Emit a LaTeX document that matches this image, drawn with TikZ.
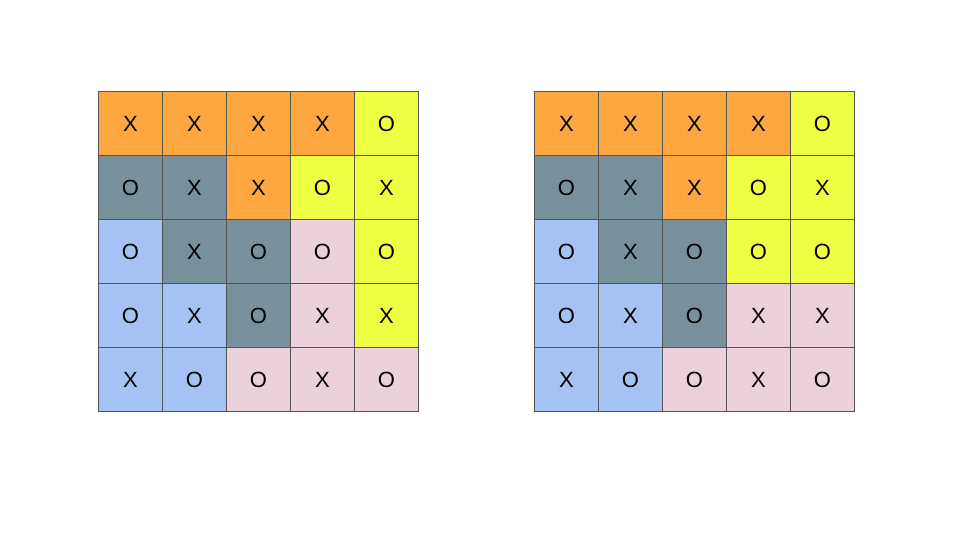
\documentclass[tikz,border=0pt]{standalone}
\usepackage{fontspec}
\setmainfont{Liberation Sans}
\definecolor{corange}{HTML}{FFA73F}
\definecolor{cyellow}{HTML}{EEFF41}
\definecolor{cgray}{HTML}{78909C}
\definecolor{cblue}{HTML}{A4C2F4}
\definecolor{cpink}{HTML}{EAD1DC}
\definecolor{gridline}{HTML}{555555}
\tikzset{
  cell/.style={draw=gridline, line width=0.8pt, minimum width=64pt, minimum height=64pt, inner sep=0pt, outer sep=0pt, anchor=north west, font=\fontsize{22}{26}\selectfont},
  O/.style={cell, fill=corange},
  Y/.style={cell, fill=cyellow},
  G/.style={cell, fill=cgray},
  B/.style={cell, fill=cblue},
  P/.style={cell, fill=cpink}
}
\begin{document}
\begin{tikzpicture}[x=1pt,y=-1pt]
\useasboundingbox (0,0) rectangle (960,540);
% left grid
\foreach \row/\line in {0/{O/X,O/X,O/X,O/X,Y/O},1/{G/O,G/X,O/X,Y/O,Y/X},2/{B/O,G/X,G/O,P/O,Y/O},3/{B/O,B/X,G/O,P/X,Y/X},4/{B/X,B/O,P/O,P/X,P/O}}{
  \foreach \c/\t [count=\col from 0] in \line {
    \node[\c] (L-\row-\col) at ({98.5+64*\col},{91.5+64*\row}) {\t};
  }
}
% right grid
\foreach \row/\line in {0/{O/X,O/X,O/X,O/X,Y/O},1/{G/O,G/X,O/X,Y/O,Y/X},2/{B/O,G/X,G/O,Y/O,Y/O},3/{B/O,B/X,G/O,P/X,P/X},4/{B/X,B/O,P/O,P/X,P/O}}{
  \foreach \c/\t [count=\col from 0] in \line {
    \node[\c] (R-\row-\col) at ({534.5+64*\col},{91.5+64*\row}) {\t};
  }
}
\end{tikzpicture}
\end{document}
